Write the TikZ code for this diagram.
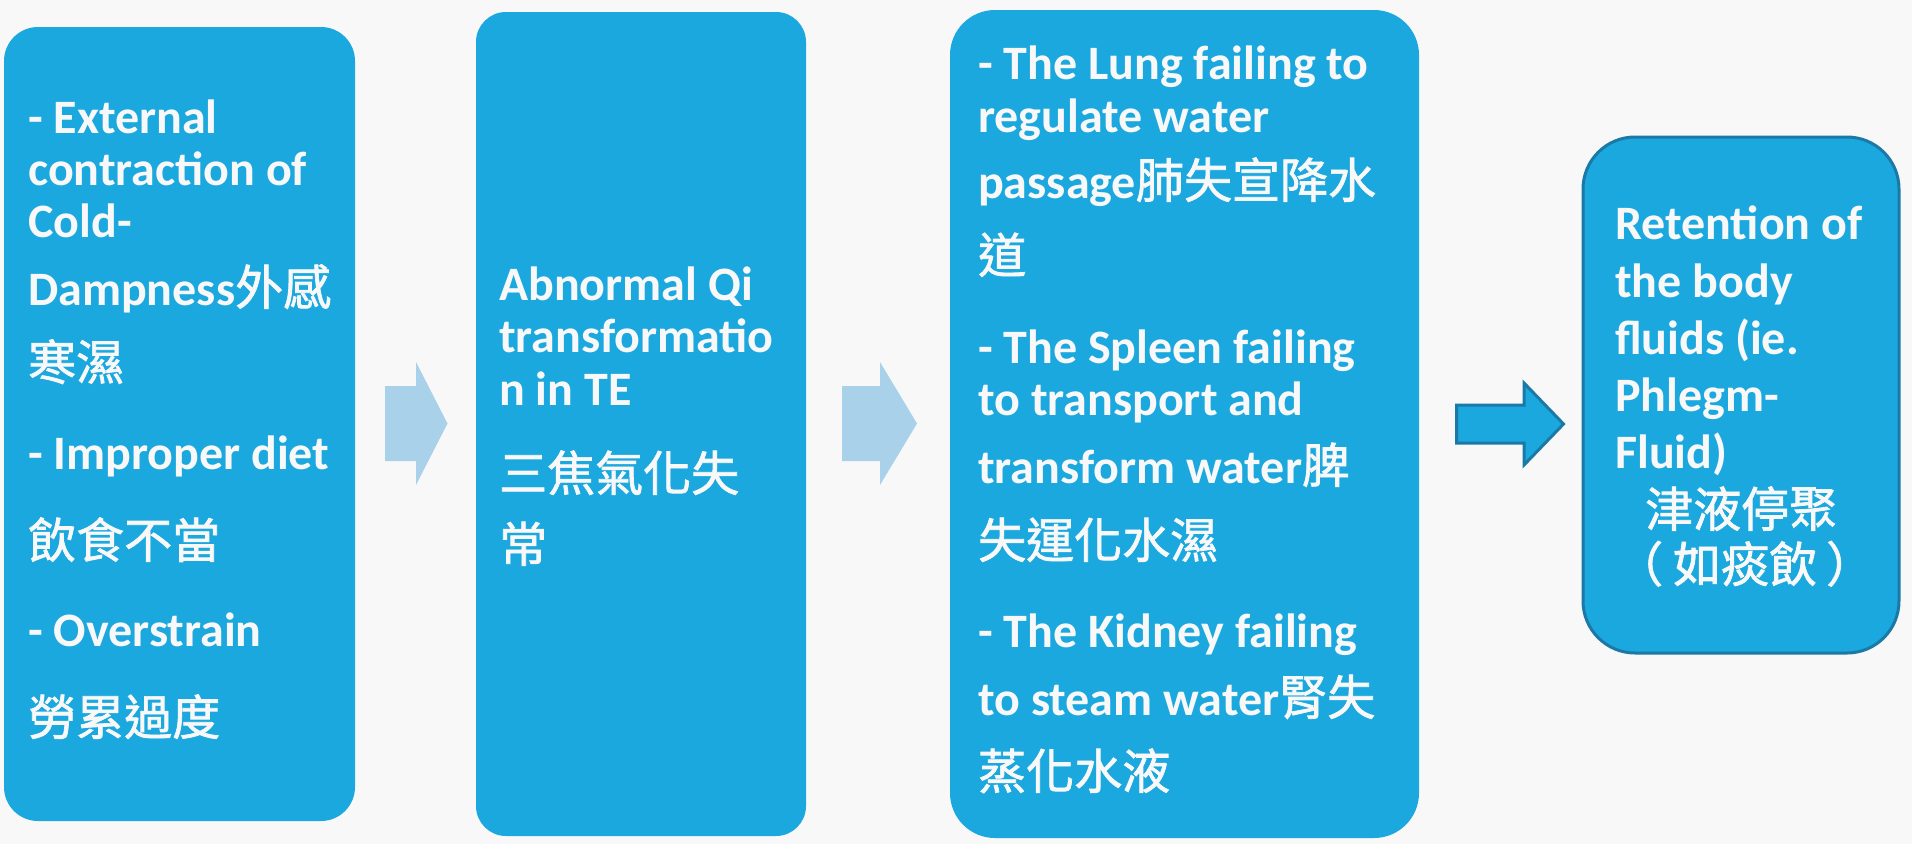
\documentclass[tikz,border=0pt]{standalone}
\usepackage{fontspec}
\setmainfont{Carlito}
\newfontfamily\cjkfont{Noto Sans CJK TC}[FakeBold=1.5]
\definecolor{bgc}{HTML}{F8F8F8}
\definecolor{boxblue}{HTML}{1BA8DE}
\definecolor{arrowlight}{HTML}{A9D1EA}
\definecolor{darkborder}{HTML}{1A79A6}
\definecolor{txtc}{HTML}{F8F8F8}
\newcommand\cj[1]{{\cjkfont\mdseries\fontsize{48}{0}\selectfont #1}}
\newcommand\textlines[2]{\parbox[t]{#1}{\fontsize{48}{0}\selectfont\bfseries\lineskiplimit=-1000pt\lineskip=0pt\raggedright #2}}
% block arrow: tail x, head-base x, tip x, centre y, half shaft, half head
\newcommand\blockarrow[7]{\draw[#1] (#2,#5-#6) -- (#3,#5-#6) -- (#3,#5-#7) -- (#4,#5) -- (#3,#5+#7) -- (#3,#5+#6) -- (#2,#5+#6) -- cycle;}
\tikzset{
  stagebox/.style={fill=boxblue, draw=none, inner sep=0pt, rounded corners=#1},
  txt/.style={anchor=base west, inner sep=0pt, text=txtc},
  lightarrow/.style={fill=arrowlight, draw=none},
  darkarrow/.style={fill=boxblue, draw=darkborder, line width=3pt, line join=miter}
}
\begin{document}
\begin{tikzpicture}[x=1pt,y=-1pt]
\useasboundingbox[fill=bgc] (0,0) rectangle (1912,844);
% boxes
\node[stagebox=34pt, minimum width=351pt, minimum height=794pt] (b1) at (179.5,424) {};
\node[stagebox=30pt, minimum width=330pt, minimum height=824pt] (b2) at (641,424) {};
\node[stagebox=45pt, minimum width=469pt, minimum height=828pt] (b3) at (1184.5,424) {};
\node[stagebox=52pt, draw=darkborder, line width=3pt, minimum width=316pt, minimum height=516pt] (b4) at (1741,395) {};
% arrows
\blockarrow{lightarrow}{385}{416}{447.5}{423.5}{37.5}{61.5}
\blockarrow{lightarrow}{842}{880}{917}{423.5}{37.5}{61.5}
\blockarrow{darkarrow}{1456.5}{1524}{1563.5}{424}{19}{41}
% texts
\node[txt] (t1) at (28,133) {\textlines{320pt}{%
- External\\[52pt]
contraction of\\[52pt]
Cold-\\[68pt]
Dampness\cj{外感}\\[75pt]
\cj{寒濕}\\[89pt]
- Improper diet\\[89pt]
\cj{飲食不當}\\[88pt]
- Overstrain\\[89pt]
\cj{勞累過度}}};
\node[txt] (t2) at (499,300) {\textlines{300pt}{%
Abnormal Qi\\[52pt]
transformatio\\[53pt]
n in TE\\[86pt]
\cj{三焦氣化失}\\[71pt]
\cj{常}}};
\node[txt] (t3) at (978,79) {\textlines{430pt}{%
- The Lung failing to\\[53pt]
regulate water\\[66pt]
passage\cj{肺失宣降水}\\[75pt]
\cj{道}\\[90pt]
- The Spleen failing\\[52pt]
to transport and\\[68pt]
transform water\cj{脾}\\[75pt]
\cj{失運化水濕}\\[89pt]
- The Kidney failing\\[68pt]
to steam water\cj{腎失}\\[74pt]
\cj{蒸化水液}}};
\node[txt] (t4) at (1615,239) {\textlines{280pt}{%
Retention of\\[58pt]
the body\\[57pt]
fluids (ie.\\[57pt]
Phlegm-\\[57pt]
Fluid)\\[59pt]
\hspace*{30pt}\cj{津液停聚}\\[55pt]
\cj{（\kern10pt 如痰飲\kern9pt ）}}};
\end{tikzpicture}
\end{document}
